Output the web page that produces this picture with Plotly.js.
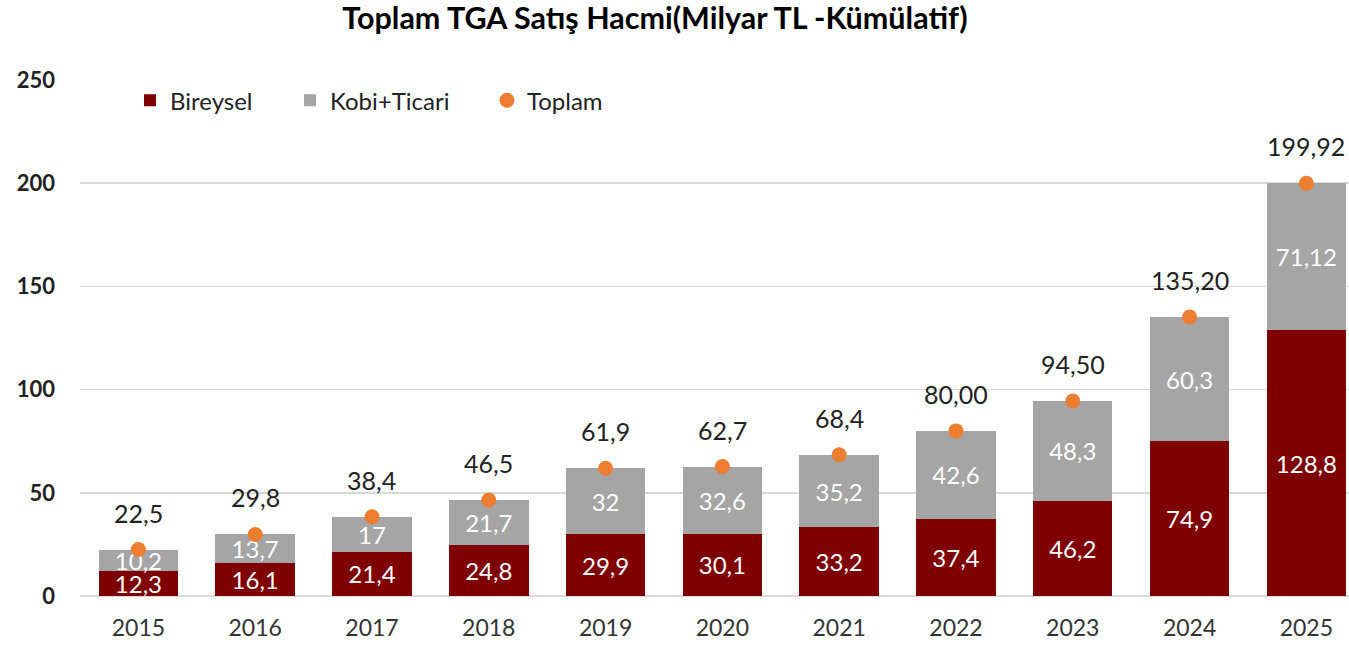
<!DOCTYPE html>
<html>
<head>
<meta charset="utf-8">
<script src="https://cdn.plot.ly/plotly-3.0.1.min.js"></script>
<style>html,body{margin:0;padding:0;background:#fff}#chart{width:1349px;height:649px}</style>
</head>
<body>
<div id="chart"></div>
<script>
const years = ['2015','2016','2017','2018','2019','2020','2021','2022','2023','2024','2025'];
const bireysel = [12.3,16.1,21.4,24.8,29.9,30.1,33.2,37.4,46.2,74.9,128.8];
const kobiTicari = [10.2,13.7,17,21.7,32,32.6,35.2,42.6,48.3,60.3,71.12];
const toplam = [22.5,29.8,38.4,46.5,61.9,62.7,68.4,80.00,94.50,135.20,199.92];
const toplamLabels = ['22,5','29,8','38,4','46,5','61,9','62,7','68,4','80,00','94,50','135,20','199,92'];
const yTicks = [0,50,100,150,200,250];

const FONT = 'Lato, "Open Sans", sans-serif';
const fmt = v => String(v).replace('.', ',');

const traces = [
  {
    type: 'bar', name: 'Bireysel', x: years, y: bireysel, legend: 'legend',
    marker: {color: '#7F0000'},
    text: bireysel.map(fmt), textposition: 'inside', insidetextanchor: 'middle',
    constraintext: 'none', textangle: 0,
    textfont: {family: FONT, size: 24, color: '#ffffff'},
    hoverinfo: 'skip'
  },
  {
    type: 'bar', name: 'Kobi+Ticari', x: years, y: kobiTicari, legend: 'legend2',
    marker: {color: '#A5A5A5'},
    text: kobiTicari.map(fmt), textposition: 'inside', insidetextanchor: 'middle',
    constraintext: 'none', textangle: 0,
    textfont: {family: FONT, size: 24, color: '#ffffff'},
    hoverinfo: 'skip'
  },
  {
    type: 'scatter', mode: 'markers', name: 'Toplam', x: years, y: toplam, legend: 'legend3',
    marker: {color: '#ED7D31', size: 15},
    hoverinfo: 'skip'
  }
];

const annotations = years.map((yr, i) => ({
  x: i, y: toplam[i], xref: 'x', yref: 'y',
  text: toplamLabels[i], showarrow: false, yshift: 37,
  font: {family: FONT, size: 25, color: '#222222'}
}));

const legendBase = {
  orientation: 'h', y: 0.96, xanchor: 'left', yanchor: 'middle',
  font: {family: FONT, size: 24, color: '#222222'},
  bgcolor: 'rgba(0,0,0,0)'
};

const layout = {
  width: 1349, height: 649,
  margin: {l: 80, r: 0, t: 80, b: 53},
  paper_bgcolor: '#ffffff', plot_bgcolor: '#ffffff',
  font: {family: FONT},
  title: {
    text: '<b>Toplam TGA Satış Hacmi(Milyar TL -Kümülatif)</b>',
    font: {family: FONT, size: 30.5, color: '#000000'},
    xref: 'container', x: 0.4855, xanchor: 'center',
    yref: 'container', y: 0.972, yanchor: 'middle'
  },
  barmode: 'stack', bargap: 0.32,
  showlegend: true,
  legend: Object.assign({}, legendBase, {x: 0.0394}),
  legend2: Object.assign({}, legendBase, {x: 0.1655}),
  legend3: Object.assign({}, legendBase, {x: 0.3207}),
  xaxis: {
    type: 'category', range: [-0.5, 10.365],
    showgrid: false, zeroline: false, showline: false,
    ticks: '', ticklabelstandoff: 16,
    tickfont: {family: FONT, size: 23, color: '#333333'}
  },
  yaxis: {
    range: [0, 250], tickvals: yTicks, ticktext: yTicks.map(v => '<b>' + v + '</b>'),
    showgrid: true, gridcolor: '#D9D9D9', gridwidth: 1.5,
    zeroline: true, zerolinecolor: '#D9D9D9', zerolinewidth: 1.5,
    showline: false, ticks: '', ticklabelstandoff: 24,
    tickfont: {family: FONT, size: 22, color: '#222222'}
  },
  annotations: annotations
};

Plotly.newPlot('chart', traces, layout, {displayModeBar: false, staticPlot: true});
</script>
</body>
</html>
